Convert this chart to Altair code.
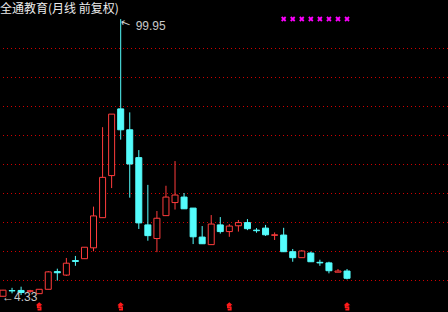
import altair as alt
import numpy as np
import pandas as pd

# Monthly candles (forward-adjusted prices)
title_text = "全通教育(月线 前复权)"
opens  = [4.4, 6.35, 6.4, 6.1, 5.3, 6.8, 12.9, 11.7, 16.7, 17.35,
          21.1, 31.5, 46.0, 69.0, 61.8, 52.2, 29.0, 24.3, 32.2, 36.7,
          38.6, 34.8, 24.8, 22.2, 29.0, 26.7, 28.7, 29.8, 27.2, 27.9,
          25.4, 25.5, 19.76, 17.7, 19.3, 16.1, 15.9, 12.7, 13.1]
highs  = [6.6, 7.3, 7.7, 6.6, 6.8, 13.1, 13.9, 17.6, 18.3, 21.3,
          35.3, 62.7, 67.2, 99.95, 67.8, 54.8, 42.8, 33.8, 42.5, 51.0,
          40.0, 34.8, 28.6, 32.4, 31.7, 29.3, 30.7, 31.0, 27.9, 29.0,
          26.4, 28.0, 20.7, 20.3, 19.8, 17.0, 16.3, 13.8, 13.8]
lows   = [4.33, 5.4, 4.8, 5.6, 5.3, 6.8, 9.8, 11.4, 14.9, 17.35,
          19.9, 31.5, 41.7, 58.4, 38.4, 27.6, 23.55, 19.6, 32.2, 34.3,
          34.5, 22.4, 22.5, 22.2, 26.0, 24.9, 26.7, 27.2, 26.3, 25.2,
          23.8, 19.76, 16.3, 17.7, 16.3, 14.9, 12.3, 12.7, 10.2]
closes = [6.5, 6.25, 5.7, 6.3, 6.8, 12.8, 12.5, 15.8, 16.4, 21.3,
          32.1, 45.4, 67.2, 61.8, 50.0, 29.7, 25.3, 31.3, 38.6, 39.3,
          34.55, 24.9, 22.5, 29.3, 26.7, 28.6, 29.8, 27.7, 27.0, 25.6,
          25.6, 19.76, 17.7, 20.0, 16.3, 15.9, 13.2, 13.1, 10.6]
year_marks = [4, 13, 25, 38]
signal_marks = [31, 32, 33, 34, 35, 36, 37, 38]
grid_levels = [10, 20, 30, 40, 50, 60, 70, 80, 90]

RED = "#ff3c3c"
CYAN = "#54fcfc"

df = pd.DataFrame({"i": range(len(opens)), "o": opens, "h": highs,
                   "l": lows, "c": closes})
df["dir"] = np.where(df["c"] >= df["o"], "up", "down")

xs = alt.Scale(domain=[-0.33, 49.15], nice=False, zero=False, padding=0)
ys = alt.Scale(domain=[-1.03, 106.55], nice=False, zero=False, padding=0)
X = alt.X("i:Q", scale=xs, axis=None)

base = alt.Chart(df)

# dotted price grid, nudged half a pixel so each line sits on one pixel row
grid = alt.Chart(pd.DataFrame({"g": grid_levels})).mark_rule(
    color="#d00000", strokeWidth=1, strokeDash=[1, 3], yOffset=0.5
).encode(y=alt.Y("g:Q", scale=ys, axis=None))

dir_color = alt.Scale(domain=["up", "down"], range=[RED, CYAN])
dir_fill = alt.Scale(domain=["up", "down"], range=["#000000", CYAN])

wicks = base.mark_rule(strokeWidth=1).encode(
    x=X,
    y=alt.Y("l:Q", scale=ys, axis=None),
    y2="h:Q",
    color=alt.Color("dir:N", scale=dir_color, legend=None),
)

bodies = base.mark_bar(size=6, strokeWidth=1).encode(
    x=X,
    y=alt.Y("o:Q", scale=ys, axis=None),
    y2="c:Q",
    fill=alt.Fill("dir:N", scale=dir_fill, legend=None),
    stroke=alt.Stroke("dir:N", scale=dir_color, legend=None),
)

# Highest high / lowest low annotations
imax = int(np.argmax(highs))
imin = int(np.argmin(lows))
ext_hi = pd.DataFrame({"i": [imax], "v": [highs[imax]], "t": [f"{highs[imax]:.2f}"]})
ext_lo = pd.DataFrame({"i": [imin], "v": [lows[imin]], "t": [f"←{lows[imin]:.2f}"]})

hi_arrow = alt.Chart(ext_hi).mark_text(
    text="←", angle=21, fontSize=12, font="DejaVu Sans", color="#c8c8c8",
    align="center", baseline="middle", dx=6, dy=2
).encode(x=alt.X("i:Q", scale=xs, axis=None), y=alt.Y("v:Q", scale=ys, axis=None))

hi_label = alt.Chart(ext_hi).mark_text(
    fontSize=12, font="Liberation Sans", color="#c8c8c8",
    align="left", baseline="middle", dx=15, dy=7
).encode(x=alt.X("i:Q", scale=xs, axis=None), y=alt.Y("v:Q", scale=ys, axis=None),
         text="t:N")

lo_label = alt.Chart(ext_lo).mark_text(
    fontSize=12, font="Liberation Sans", color="#c8c8c8",
    align="left", baseline="middle", dx=-1, dy=1
).encode(x=alt.X("i:Q", scale=xs, axis=None), y=alt.Y("v:Q", scale=ys, axis=None),
         text="t:N")

# Magenta signal crosses along the top
sig = alt.Chart(pd.DataFrame({"i": signal_marks})).mark_point(
    shape="M-1,-1L1,1M1,-1L-1,1", filled=False, size=16, strokeWidth=1.8,
    color="#ff00ff", opacity=1
).encode(x=alt.X("i:Q", scale=xs, axis=None), y=alt.value(19))

# Year-start markers under the candles
year_shape = ("M-0.45,-0.95L0,-1.35L0.45,-0.95Z"
              "M0.6,-0.55L-0.55,-0.55L-0.55,0.15L0.55,0.15L0.55,0.95L-0.6,0.95")
yr = alt.Chart(pd.DataFrame({"i": year_marks})).mark_point(
    shape=year_shape, filled=False, size=30, strokeWidth=1.6, color="#ff1a1a", opacity=1
).encode(x=alt.X("i:Q", scale=xs, axis=None), y=alt.value(307))

title = alt.Chart(pd.DataFrame({"t": [title_text]})).mark_text(
    fontSize=12, font="Noto Sans CJK SC", color="#ececec",
    align="left", baseline="middle"
).encode(x=alt.value(0), y=alt.value(9), text="t:N")

chart = alt.layer(
    grid, wicks, bodies, sig, yr, hi_arrow, hi_label, lo_label, title
).properties(
    width=448, height=312, background="#000000", padding=0,
    autosize=alt.AutoSizeParams(type="none"),
).configure_view(stroke=None)

chart.save("out.html", embed_options={"renderer": "svg", "actions": False})
